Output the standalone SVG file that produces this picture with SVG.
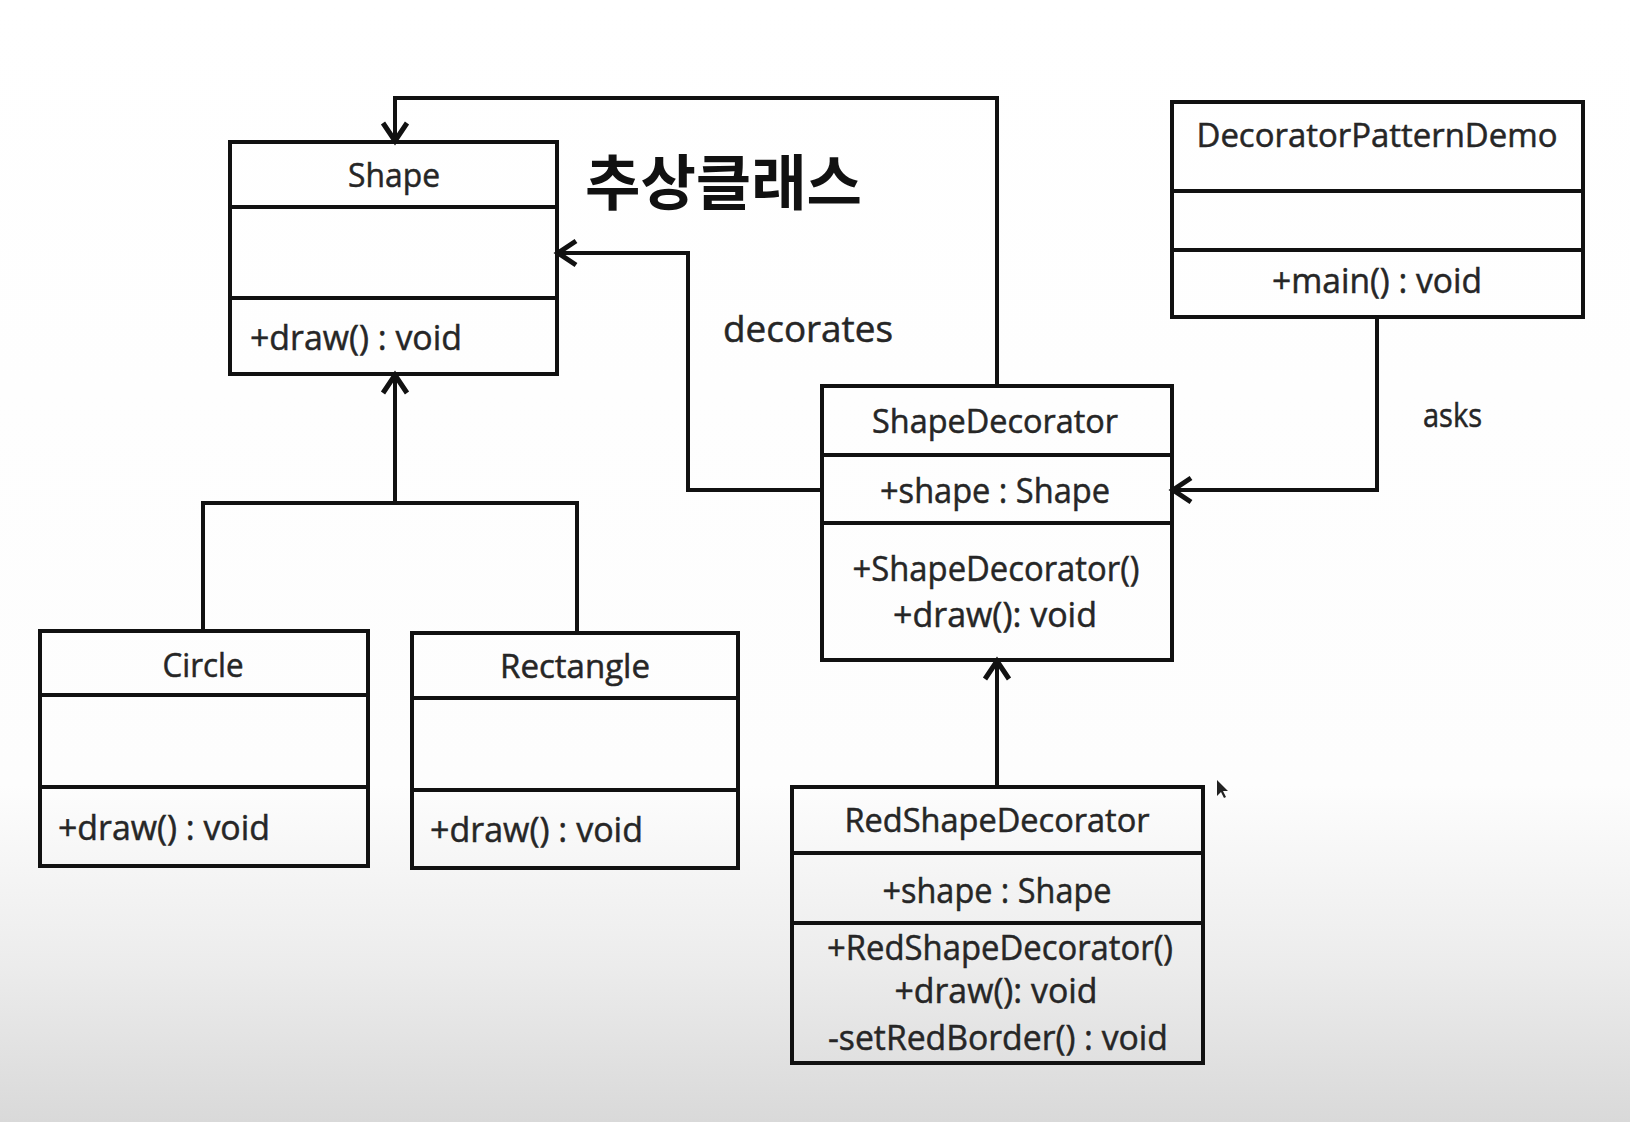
<svg xmlns="http://www.w3.org/2000/svg" width="1630" height="1122" viewBox="0 0 1630 1122">
<defs>
<linearGradient id="bg" x1="0" y1="0" x2="0" y2="1122" gradientUnits="userSpaceOnUse">
<stop offset="0" stop-color="#ffffff"/>
<stop offset="0.70" stop-color="#fdfdfd"/>
<stop offset="0.86" stop-color="#ececec"/>
<stop offset="1" stop-color="#d9d9d9"/>
</linearGradient>
<marker id="open" markerUnits="userSpaceOnUse" markerWidth="40" markerHeight="40" viewBox="-30 -20 40 40" refX="0" refY="0" orient="auto" overflow="visible">
<path d="M -19 -12 L -1 0 L -19 12" fill="none" stroke="#111" stroke-width="5" stroke-linejoin="miter"/>
</marker>
</defs>
<style>
.box{fill:none;stroke:#111;stroke-width:4}
.div{stroke:#111;stroke-width:4}
.t{font-family:"Open Sans","Noto Sans",sans-serif;fill:#262626;stroke:#262626;stroke-width:0.5}
.ttl{font-size:32px;text-anchor:middle}
.m{font-size:35px}
.mc{font-size:35px;text-anchor:middle}
.lbl{font-size:37px}
.kr{font-family:"Noto Sans CJK KR","Noto Sans CJK SC",sans-serif;font-weight:bold;font-size:60px;fill:#111}
.con{fill:none;stroke:#111;stroke-width:4}
</style>
<rect x="0" y="0" width="1630" height="1122" fill="url(#bg)"/>

<g id="connectors">
<path class="con" d="M 997 386 V 98 H 395 V 142" marker-end="url(#open)"/>
<path class="con" d="M 822 490 H 688 V 253 H 557" marker-end="url(#open)"/>
<path class="con" d="M 203 631 V 503 H 577 V 633"/>
<path class="con" d="M 395 503 V 374" stroke-width="5" marker-end="url(#open)"/>
<path class="con" d="M 997 787 V 660" marker-end="url(#open)"/>
<path class="con" d="M 1377 317 V 490 H 1172" marker-end="url(#open)"/>
<text class="t lbl" x="723" y="342" textLength="170" lengthAdjust="spacingAndGlyphs">decorates</text>
<text class="t" x="1423" y="427" font-size="33" textLength="59" lengthAdjust="spacingAndGlyphs">asks</text>
</g>

<g id="title">
<text class="kr" x="585" y="205" textLength="277" lengthAdjust="spacingAndGlyphs">추상클래스</text>
</g>

<g id="shape">
<rect class="box" x="230" y="142" width="327" height="232"/>
<line class="div" x1="230" y1="207" x2="557" y2="207"/>
<line class="div" x1="230" y1="298" x2="557" y2="298"/>
<text class="t ttl" x="394" y="187" textLength="92" lengthAdjust="spacingAndGlyphs">Shape</text>
<text class="t m" x="250" y="350" textLength="212" lengthAdjust="spacingAndGlyphs">+draw()  : void</text>
</g>

<g id="decoratorPatternDemo">
<rect class="box" x="1172" y="102" width="411" height="215"/>
<line class="div" x1="1172" y1="191" x2="1583" y2="191"/>
<line class="div" x1="1172" y1="250" x2="1583" y2="250"/>
<text class="t ttl" x="1377" y="147" textLength="361" lengthAdjust="spacingAndGlyphs">DecoratorPatternDemo</text>
<text class="t mc" x="1377" y="293" textLength="210" lengthAdjust="spacingAndGlyphs">+main()  : void</text>
</g>

<g id="shapeDecorator">
<rect class="box" x="822" y="386" width="350" height="274"/>
<line class="div" x1="822" y1="455" x2="1172" y2="455"/>
<line class="div" x1="822" y1="523" x2="1172" y2="523"/>
<text class="t ttl" x="995" y="433" textLength="246" lengthAdjust="spacingAndGlyphs">ShapeDecorator</text>
<text class="t mc" x="995" y="503" textLength="230" lengthAdjust="spacingAndGlyphs">+shape  : Shape</text>
<text class="t mc" x="996" y="581" textLength="287" lengthAdjust="spacingAndGlyphs">+ShapeDecorator()</text>
<text class="t mc" x="995" y="627" textLength="204" lengthAdjust="spacingAndGlyphs">+draw():  void</text>
</g>

<g id="circle">
<rect class="box" x="40" y="631" width="328" height="235"/>
<line class="div" x1="40" y1="695" x2="368" y2="695"/>
<line class="div" x1="40" y1="787" x2="368" y2="787"/>
<text class="t ttl" x="203" y="677" textLength="81" lengthAdjust="spacingAndGlyphs">Circle</text>
<text class="t m" x="58" y="840" textLength="212" lengthAdjust="spacingAndGlyphs">+draw()  : void</text>
</g>

<g id="rectangle">
<rect class="box" x="412" y="633" width="326" height="235"/>
<line class="div" x1="412" y1="698" x2="738" y2="698"/>
<line class="div" x1="412" y1="790" x2="738" y2="790"/>
<text class="t ttl" x="575" y="678" textLength="150" lengthAdjust="spacingAndGlyphs">Rectangle</text>
<text class="t m" x="430" y="842" textLength="213" lengthAdjust="spacingAndGlyphs">+draw()  : void</text>
</g>

<g id="redShapeDecorator">
<rect class="box" x="792" y="787" width="411" height="276"/>
<line class="div" x1="792" y1="853" x2="1203" y2="853"/>
<line class="div" x1="792" y1="923" x2="1203" y2="923"/>
<text class="t ttl" x="997" y="832" textLength="305" lengthAdjust="spacingAndGlyphs">RedShapeDecorator</text>
<text class="t mc" x="997" y="903" textLength="229" lengthAdjust="spacingAndGlyphs">+shape  : Shape</text>
<text class="t mc" x="1000" y="960" textLength="346" lengthAdjust="spacingAndGlyphs">+RedShapeDecorator()</text>
<text class="t mc" x="996" y="1003" textLength="203" lengthAdjust="spacingAndGlyphs">+draw():  void</text>
<text class="t mc" x="998" y="1050" textLength="340" lengthAdjust="spacingAndGlyphs">-setRedBorder()  : void</text>
</g>

<polygon points="1217,780 1217,796 1221,792 1224,798 1226,797 1223,791 1228,791" fill="#222"/>
</svg>
